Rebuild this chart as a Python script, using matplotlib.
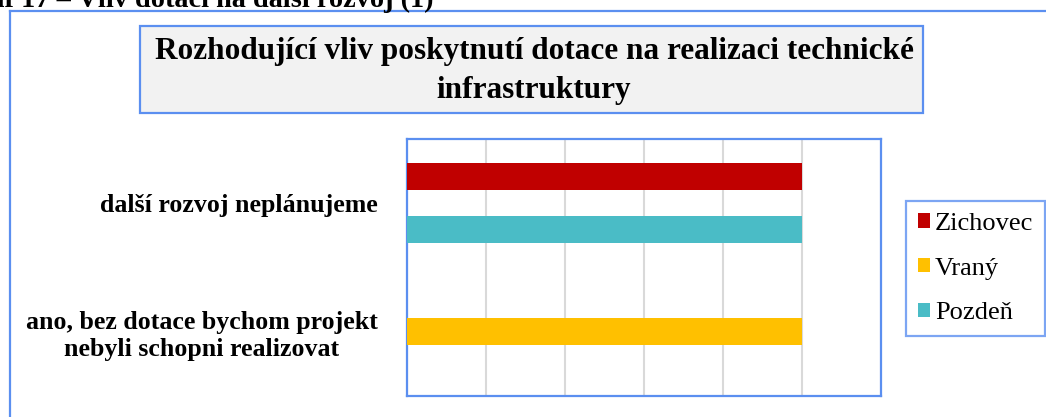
import matplotlib
matplotlib.use("Agg")
import matplotlib.pyplot as plt
from matplotlib.patches import Rectangle
from matplotlib.lines import Line2D
import numpy as np

categories = ["ano, bez dotace bychom projekt\nnebyli schopni realizovat", "další rozvoj neplánujeme"]
series_names = ["Zichovec", "Vraný", "Pozdeň"]
zichovec = [0, 1]
vrany = [1, 0]
pozden = [0, 1]
colors = ["#C00000", "#FFC000", "#4ABCC6"]
title = "Rozhodující vliv poskytnutí dotace na realizaci technické\ninfrastruktury"
caption = "Graf 17 – Vliv dotací na další rozvoj (1)"

W, H = 1046, 417
BLUE = "#5B8FF0"
SERIF = ["Liberation Serif", "DejaVu Serif"]

fig = plt.figure(figsize=(W / 100, H / 100), dpi=100)

def fx(x):
    return x / W

def fy(y):
    return (H - y) / H

# caption (cut off at top, as in the source)
fig.text(fx(433), fy(7), caption, ha="right", va="baseline", fontsize=20.3,
         fontweight="bold", family=SERIF)

# outer frame
fig.add_artist(Line2D([fx(10), fx(10)], [fy(11), fy(H + 5)], color=BLUE, lw=1.6))
fig.add_artist(Line2D([fx(10), fx(W + 5)], [fy(11), fy(11)], color=BLUE, lw=1.6))

# title box
fig.add_artist(Rectangle((fx(140), fy(113)), fx(923) - fx(140), fy(26) - fy(113),
                         facecolor="#F2F2F2", edgecolor=BLUE, lw=1.6))
fig.text(fx(534), fy(71), title, ha="center", va="center", fontsize=22.5,
         fontweight="bold", family=SERIF, linespacing=1.42, multialignment="center")

# plot axes
ax = fig.add_axes([fx(407), fy(396), fx(881) - fx(407), fy(139) - fy(396)])
y = np.arange(len(categories))
offsets = [0.206, 0.0, -0.206]
bh = 0.21
handles = []
for vals, off, col, name in zip([zichovec, vrany, pozden], offsets, colors, series_names):
    b = ax.barh(y + off, vals, height=bh, color=col, label=name, zorder=3)
    handles.append(b)

ax.set_xlim(0, 1.2)
ax.set_ylim(-0.5, 1.5)
ax.set_xticks(np.arange(0, 1.21, 0.2))
ax.xaxis.grid(True, color="#D9D9D9", lw=1.5, zorder=0)
ax.tick_params(axis="x", length=0, labelbottom=False)
ax.set_yticks(y)
ax.set_yticklabels(categories, fontsize=18.6, fontweight="bold", family=SERIF,
                   multialignment="center", linespacing=1.23)
ax.tick_params(axis="y", length=0, pad=21)
for s in ax.spines.values():
    s.set_color(BLUE)
    s.set_linewidth(1.6)

leg = fig.legend(handles=handles, labels=series_names, loc="upper left",
                 bbox_to_anchor=(fx(906), fy(201)), frameon=True, fancybox=False,
                 edgecolor=BLUE, prop={"family": SERIF, "size": 19},
                 handlelength=0.45, handleheight=0.45, handletextpad=0.2,
                 labelspacing=0.86, borderpad=0.45, borderaxespad=0)
leg.get_frame().set_linewidth(1.6)

fig.savefig("out.png", dpi=100)
